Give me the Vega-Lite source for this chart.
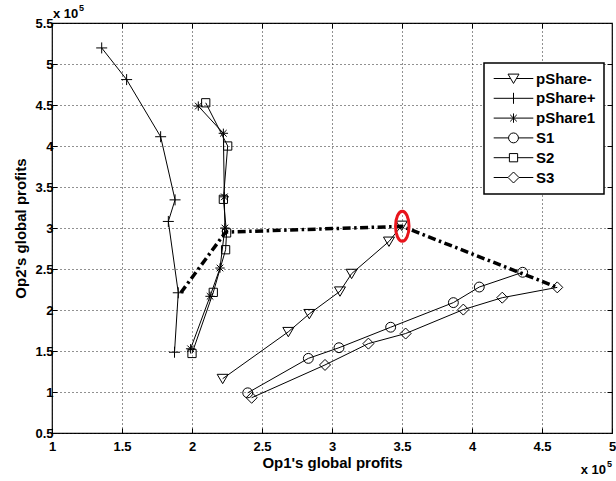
{
  "$schema": "https://vega.github.io/schema/vega-lite/v6.json",
  "width": 560,
  "height": 410,
  "autosize": "none",
  "padding": {"left": 52, "top": 23, "right": 4, "bottom": 48},
  "background": "white",
  "config": {
    "font": "Liberation Sans",
    "view": {"stroke": "black", "strokeWidth": 1.2},
    "legend": {"strokeWidth": 1.5, "labelFontSize": 15, "labelFontWeight": "bold", "labelFont": "Liberation Sans", "labelColor": "black"}
  },
  "data": {
    "values": [
      {"series": "pShare-", "i": 1, "x": 221900, "y": 116200},
      {"series": "pShare-", "i": 2, "x": 268800, "y": 173400},
      {"series": "pShare-", "i": 3, "x": 283800, "y": 195300},
      {"series": "pShare-", "i": 4, "x": 305700, "y": 222800},
      {"series": "pShare-", "i": 5, "x": 314000, "y": 244300},
      {"series": "pShare-", "i": 6, "x": 340700, "y": 283600},
      {"series": "pShare-", "i": 7, "x": 349800, "y": 303000},
      {"series": "pShare+", "i": 1, "x": 135500, "y": 519600},
      {"series": "pShare+", "i": 2, "x": 153300, "y": 481000},
      {"series": "pShare+", "i": 3, "x": 177600, "y": 411300},
      {"series": "pShare+", "i": 4, "x": 187900, "y": 334300},
      {"series": "pShare+", "i": 5, "x": 183100, "y": 308000},
      {"series": "pShare+", "i": 6, "x": 190200, "y": 221000},
      {"series": "pShare+", "i": 7, "x": 187500, "y": 148500},
      {"series": "pShare1", "i": 1, "x": 204500, "y": 448700},
      {"series": "pShare1", "i": 2, "x": 222400, "y": 415500},
      {"series": "pShare1", "i": 3, "x": 223100, "y": 338000},
      {"series": "pShare1", "i": 4, "x": 223500, "y": 300000},
      {"series": "pShare1", "i": 5, "x": 220000, "y": 251200},
      {"series": "pShare1", "i": 6, "x": 212900, "y": 216700},
      {"series": "pShare1", "i": 7, "x": 199000, "y": 152700},
      {"series": "S1", "i": 1, "x": 239800, "y": 99000},
      {"series": "S1", "i": 2, "x": 283100, "y": 141000},
      {"series": "S1", "i": 3, "x": 305000, "y": 154000},
      {"series": "S1", "i": 4, "x": 341900, "y": 179000},
      {"series": "S1", "i": 5, "x": 386700, "y": 209000},
      {"series": "S1", "i": 6, "x": 405200, "y": 228000},
      {"series": "S1", "i": 7, "x": 436200, "y": 246000},
      {"series": "S2", "i": 1, "x": 209800, "y": 452700},
      {"series": "S2", "i": 2, "x": 225500, "y": 400000},
      {"series": "S2", "i": 3, "x": 222400, "y": 335000},
      {"series": "S2", "i": 4, "x": 224700, "y": 294000},
      {"series": "S2", "i": 5, "x": 224000, "y": 273500},
      {"series": "S2", "i": 6, "x": 215200, "y": 221500},
      {"series": "S2", "i": 7, "x": 200000, "y": 147000},
      {"series": "S3", "i": 1, "x": 242600, "y": 93000},
      {"series": "S3", "i": 2, "x": 295000, "y": 133000},
      {"series": "S3", "i": 3, "x": 326000, "y": 159000},
      {"series": "S3", "i": 4, "x": 352600, "y": 171300},
      {"series": "S3", "i": 5, "x": 393800, "y": 200500},
      {"series": "S3", "i": 6, "x": 421600, "y": 215000},
      {"series": "S3", "i": 7, "x": 460900, "y": 227600}
    ]
  },
  "layer": [
    {
      "mark": {"type": "line", "color": "black", "strokeWidth": 1},
      "encoding": {
        "x": {"field": "x", "type": "quantitative", "scale": {"domain": [100000, 500000], "nice": false, "zero": false},
          "axis": {"orient": "bottom", "values": [100000, 150000, 200000, 250000, 300000, 350000, 400000, 450000, 500000], "labelExpr": "datum.value / 100000", "grid": true, "gridColor": "#222", "gridDash": [1, 3], "gridWidth": 1, "domain": false, "tickSize": -5, "tickColor": "black", "labelFont": "Liberation Sans", "labelFontSize": 13, "labelFontWeight": "bold", "labelColor": "black", "labelPadding": 12, "labelFlush": false, "title": "Op1's global profits", "titleFont": "Liberation Sans", "titleFontSize": 15, "titleFontWeight": "bold", "titleColor": "black", "titleBaseline": "alphabetic", "titleY": 34}},
        "y": {"field": "y", "type": "quantitative", "scale": {"domain": [50000, 550000], "nice": false, "zero": false},
          "axis": {"orient": "left", "values": [50000, 100000, 150000, 200000, 250000, 300000, 350000, 400000, 450000, 500000, 550000], "labelExpr": "datum.value / 100000", "grid": true, "gridColor": "#222", "gridDash": [1, 3], "gridWidth": 1, "domain": false, "tickSize": -5, "tickColor": "black", "labelFont": "Liberation Sans", "labelFontSize": 13, "labelFontWeight": "bold", "labelColor": "black", "labelPadding": 4, "labelFlush": false, "title": "Op2's global profits", "titleFont": "Liberation Sans", "titleFontSize": 15, "titleFontWeight": "bold", "titleColor": "black", "titlePadding": 6}},
        "detail": {"field": "series", "type": "nominal"},
        "order": {"field": "i", "type": "quantitative"}
      }
    },
    {
      "mark": {"type": "point", "filled": false, "color": "black", "strokeWidth": 1, "size": 121, "opacity": 1},
      "encoding": {
        "x": {"field": "x", "type": "quantitative", "axis": null},
        "y": {"field": "y", "type": "quantitative", "axis": null},
        "shape": {"field": "series", "type": "nominal", "legend": null,
          "scale": {"domain": ["pShare-", "pShare+", "pShare1", "S1", "S2", "S3"],
            "range": [
              "M-1,-0.8L1,-0.8L0,0.9Z",
              "M-1,0L1,0M0,-1L0,1",
              "M-0.85,0L0.85,0M0,-0.85L0,0.85M-0.6,-0.6L0.6,0.6M-0.6,0.6L0.6,-0.6",
              "M0.9,0A0.9,0.9 0 1,1 -0.9,0A0.9,0.9 0 1,1 0.9,0Z",
              "M-0.75,-0.75L0.75,-0.75L0.75,0.75L-0.75,0.75Z",
              "M0,-1L1,0L0,1L-1,0Z"
            ]}}
      }
    },
    {
      "data": {"values": [
        {"i": 1, "x": 192000, "y": 221000},
        {"i": 2, "x": 224000, "y": 295000},
        {"i": 3, "x": 350000, "y": 302000},
        {"i": 4, "x": 460900, "y": 227600}
      ]},
      "mark": {"type": "line", "color": "black", "strokeWidth": 3.5, "strokeDash": [8, 3.5, 2.5, 3.5]},
      "encoding": {
        "x": {"field": "x", "type": "quantitative", "axis": null},
        "y": {"field": "y", "type": "quantitative", "axis": null},
        "order": {"field": "i", "type": "quantitative"}
      }
    },
    {
      "data": {"values": [{"x": 350200, "y": 302200}]},
      "mark": {"type": "point", "shape": "M0,-1A0.45,1 0 1,1 0,1A0.45,1 0 1,1 0,-1Z", "size": 900, "filled": false, "stroke": "#e8141c", "strokeWidth": 3, "opacity": 1},
      "encoding": {
        "x": {"field": "x", "type": "quantitative", "axis": {"orient": "top", "values": [150000, 200000, 250000, 300000, 350000, 400000, 450000], "labels": false, "grid": false, "domain": false, "tickSize": -5, "tickColor": "black", "title": null}},
        "y": {"field": "y", "type": "quantitative", "axis": {"orient": "right", "values": [100000, 150000, 200000, 250000, 300000, 350000, 400000, 450000, 500000], "labels": false, "grid": false, "domain": false, "tickSize": -5, "tickColor": "black", "title": null}}
      }
    },
    {
      "data": {"values": [{"x": 100000, "y": 550000, "t": "x 10"}]},
      "mark": {"type": "text", "align": "left", "baseline": "alphabetic", "dx": 1, "dy": -5, "font": "Liberation Sans", "fontSize": 13, "fontWeight": "bold", "color": "black", "clip": false},
      "encoding": {
        "x": {"field": "x", "type": "quantitative", "axis": null},
        "y": {"field": "y", "type": "quantitative", "axis": null},
        "text": {"field": "t", "type": "nominal"}
      }
    },
    {
      "data": {"values": [{"x": 100000, "y": 550000, "t": "5"}]},
      "mark": {"type": "text", "align": "left", "baseline": "alphabetic", "dx": 27, "dy": -12, "font": "Liberation Sans", "fontSize": 9, "fontWeight": "bold", "color": "black", "clip": false},
      "encoding": {
        "x": {"field": "x", "type": "quantitative", "axis": null},
        "y": {"field": "y", "type": "quantitative", "axis": null},
        "text": {"field": "t", "type": "nominal"}
      }
    },
    {
      "data": {"values": [{"x": 500000, "y": 50000, "t": "x 10"}]},
      "mark": {"type": "text", "align": "right", "baseline": "alphabetic", "dx": -6, "dy": 41, "font": "Liberation Sans", "fontSize": 13, "fontWeight": "bold", "color": "black", "clip": false},
      "encoding": {
        "x": {"field": "x", "type": "quantitative", "axis": null},
        "y": {"field": "y", "type": "quantitative", "axis": null},
        "text": {"field": "t", "type": "nominal"}
      }
    },
    {
      "data": {"values": [{"x": 500000, "y": 50000, "t": "5"}]},
      "mark": {"type": "text", "align": "right", "baseline": "alphabetic", "dx": 0, "dy": 34, "font": "Liberation Sans", "fontSize": 9, "fontWeight": "bold", "color": "black", "clip": false},
      "encoding": {
        "x": {"field": "x", "type": "quantitative", "axis": null},
        "y": {"field": "y", "type": "quantitative", "axis": null},
        "text": {"field": "t", "type": "nominal"}
      }
    },
    {
      "data": {"values": []},
      "mark": {"type": "point", "filled": false, "color": "black", "strokeWidth": 1, "size": 121, "opacity": 1},
      "encoding": {
        "shape": {"field": "series", "type": "nominal",
          "scale": {"domain": ["pShare-", "pShare+", "pShare1", "S1", "S2", "S3"],
            "range": [
              "M-3.6,0L-0.53,0M0.53,0L3.6,0M-1,-0.8L1,-0.8L0,0.9Z",
              "M-3.6,0L3.6,0M0,-1L0,1",
              "M-3.6,0L3.6,0M0,-0.85L0,0.85M-0.6,-0.6L0.6,0.6M-0.6,0.6L0.6,-0.6",
              "M-3.6,0L-0.9,0M0.9,0L3.6,0M0.9,0A0.9,0.9 0 1,1 -0.9,0A0.9,0.9 0 1,1 0.9,0Z",
              "M-3.6,0L-0.75,0M0.75,0L3.6,0M-0.75,-0.75L0.75,-0.75L0.75,0.75L-0.75,0.75Z",
              "M-3.6,0L-1,0M1,0L3.6,0M0,-1L1,0L0,1L-1,0Z"
            ]},
          "legend": {"orient": "none", "legendX": 432, "legendY": 40, "title": null, "strokeColor": "black", "fillColor": "white", "padding": 8, "labelFont": "Liberation Sans", "labelFontSize": 15, "labelFontWeight": "bold", "labelColor": "black", "symbolStrokeColor": "black", "symbolFillColor": "transparent", "symbolStrokeWidth": 1, "symbolSize": 121, "symbolOffset": 14, "labelOffset": 15, "rowPadding": 3.8}
        }
      }
    }
  ],
  "resolve": {"scale": {"shape": "independent"}, "axis": {"x": "independent", "y": "independent"}}
}
